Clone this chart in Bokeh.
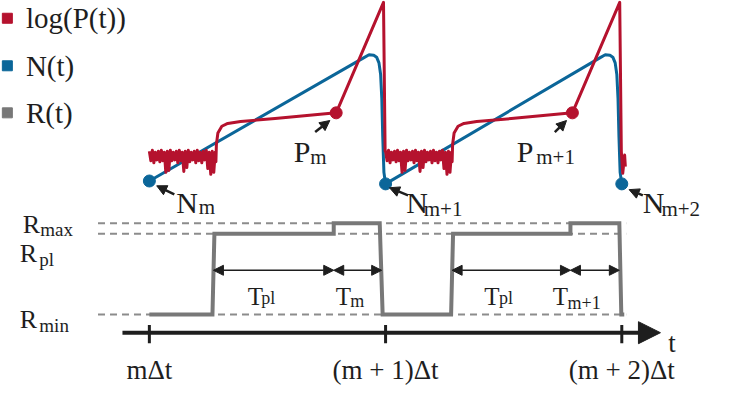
import numpy as np
from bokeh.plotting import figure
from bokeh.models import Range1d, Arrow, NormalHead
from bokeh.core.properties import value
from bokeh.embed import file_html
from bokeh.resources import INLINE

RED = "#B5122E"
BLUE = "#0B6699"
GRAY = "#787878"
DASH = "#8C8C8C"
INK = "#1E1E1E"
FONT = value("Liberation Serif")

# ---------------- data (time in units of Δt, t = 0 at mΔt; levels in arbitrary units, R_min = 0)
tick_t = [0, 1, 2]
tick_labels = ["mΔt", "(m + 1)Δt", "(m + 2)Δt"]
cycle_start = [0, 1]

# R(t) levels and the piecewise-constant R(t) signal
R_level_names = ["max", "pl", "min"]
R_levels = [9.5, 8.4, 0.0]
R_t = [0.0, 0.2671, 0.2754, 0.7805, 0.7805, 0.9752, 0.9876,
       1.2774, 1.2857, 1.7826, 1.7826, 1.9896, 1.9979, 2.0104]
R_y = [0.0, 0.0, 8.4, 8.4, 9.5, 9.5, 0.0,
       0.0, 8.4, 8.4, 9.5, 9.5, 0.0, 0.0]

# N(t): minima N_m, N_m+1, N_m+2 and the shape of one cycle (local time tau)
N_min = [13.9, 13.6, 13.6]
N_tau = [0.0, 0.905, 0.930, 0.950, 0.962, 0.972, 0.979, 0.984, 0.988, 0.993, 1.0]
N_mid = [26.7, 27.05, 27.0, 26.8, 26.2, 25.0, 22.5, 18.5, 14.8]

# log(P(t)): noisy start, rise, plateau up to P_m, peak and collapse
P_noise = [17.0, 16.0, 17.1, 15.8, 16.9, 16.1, 17.0, 15.9, 17.1, 16.0,
           16.9, 14.8, 17.0, 15.0, 17.1, 16.0, 16.9, 16.1, 17.0, 15.8,
           17.1, 16.0, 16.9, 14.9, 17.0, 15.3, 17.1, 15.9, 16.9, 16.1,
           17.0, 15.8, 17.1, 16.0, 16.9, 15.8, 17.0, 16.1, 17.1, 15.2,
           16.9, 14.6, 17.0, 14.8, 16.9]
P_noise_end = 0.279
P_tau = [0.2817, 0.2838, 0.2901, 0.3068, 0.3318, 0.3861, 0.5321, 0.7909, 0.9912, 0.9980]
P_val = [15.9, 17.7, 18.9, 19.6, 19.9, 20.1, 20.4, 21.0, 32.5, 17.0]
P_dot_tau = 0.7909
P_dot_val = 21.0
P_tail_tau = [1.004, 1.012, 1.015]
P_tail_val = [14.7, 16.6, 15.4]

# annotation pointers (tail -> head)
ptr_x0 = [0.1056, 1.0952, 2.0890, 0.7019, 1.7164]
ptr_y0 = [12.5, 12.4, 12.4, 19.0, 19.0]
ptr_x1 = [0.0311, 1.0166, 2.0311, 0.7640, 1.7660]
ptr_y1 = [13.4, 13.2, 13.0, 20.2, 20.2]

# interval arrows T_pl / T_m
T_y = 4.6
T_x0 = [0.2712, 0.7805, 1.2816, 1.7826]
T_x1 = [0.7805, 0.9834, 1.7826, 1.9896]

# ---------------- build the curves
blue_x, blue_y = [], []
for i, t0 in enumerate(cycle_start):
    ys = [N_min[i]] + N_mid + [N_min[i + 1]]
    for tau, y in zip(N_tau, ys):
        blue_x.append(t0 + tau)
        blue_y.append(y)

noise_tau = np.linspace(0.0, P_noise_end, len(P_noise))
red_x, red_y = [], []
for t0 in cycle_start:
    red_x += list(t0 + noise_tau)
    red_y += P_noise
    red_x += [t0 + tau for tau in P_tau]
    red_y += P_val
red_x += [cycle_start[-1] + tau for tau in P_tail_tau]
red_y += P_tail_val

# ---------------- figure
p = figure(width=715, height=385,
           x_range=Range1d(-0.6302, 2.3967), y_range=Range1d(-7.4, 32.7),
           x_axis_type=None, y_axis_type=None,
           output_backend="svg", toolbar_location=None, min_border=0)
p.outline_line_color = None
p.background_fill_color = "white"
p.border_fill_color = "white"

# dashed reference levels
p.segment(x0=-0.2174, x1=2.0186, y0=R_levels, y1=R_levels,
          line_dash="7 5", line_width=2, line_color=DASH)

# R(t), N(t), log P(t)
p.line(R_t, R_y, line_width=4, line_color=GRAY, line_join="miter")
p.line(blue_x, blue_y, line_width=3, line_color=BLUE, line_join="round")
p.line(red_x, red_y, line_width=3, line_color=RED, line_join="round")
p.scatter(tick_t, N_min, marker="circle", size=12, fill_color=BLUE, line_color=BLUE)
p.scatter([t0 + P_dot_tau for t0 in cycle_start], [P_dot_val] * 2,
          marker="circle", size=12, fill_color=RED, line_color=RED)

# time axis
p.segment(x0=[-0.1139], y0=[-1.9], x1=[2.12], y1=[-1.9], line_width=4, line_color=INK)
p.segment(x0=tick_t, x1=tick_t, y0=-1.1, y1=-3.0, line_width=3, line_color=INK)
p.add_layout(Arrow(x_start=2.09, y_start=-1.9, x_end=2.1636, y_end=-1.9, line_alpha=0,
                   end=NormalHead(size=22, fill_color=INK, line_color=INK)))

# pointer arrows
for a, b, c, d in zip(ptr_x0, ptr_y0, ptr_x1, ptr_y1):
    p.add_layout(Arrow(x_start=a, y_start=b, x_end=c, y_end=d, line_width=2.5, line_color=INK,
                       end=NormalHead(size=10, fill_color=INK, line_color=INK, line_width=1)))

# interval arrows
for a, b in zip(T_x0, T_x1):
    p.add_layout(Arrow(x_start=a, y_start=T_y, x_end=b, y_end=T_y, line_width=1.5, line_color=INK,
                       start=NormalHead(size=10, fill_color=INK, line_color=INK, line_width=1),
                       end=NormalHead(size=10, fill_color=INK, line_color=INK, line_width=1)))

def txt(x, y, s, size, align="left", baseline="alphabetic"):
    p.text(x=x, y=y, text=s, text_font=FONT, text_font_style="normal",
           text_font_size=size, text_align=align, text_baseline=baseline, text_color=INK)

# legend
legend_labels = ["log(P(t))", "N(t)", "R(t)"]
legend_y = [30.85, 25.9, 21.0]
p.scatter([-0.6012] * 3, legend_y, marker="square", size=10,
          fill_color=[RED, BLUE, GRAY], line_color=[RED, BLUE, GRAY])
txt([-0.5226] * 3, legend_y, legend_labels, "29px", baseline="middle")

# N / P annotations
txt([0.1139, 1.0870, 2.0890, 0.6108, 1.5549], [11.7, 11.7, 11.7, 17.0, 17.0],
    ["N", "N", "N", "P", "P"], "30px")
txt([0.2091, 1.1615, 2.1677, 0.6812, 1.6377], [11.2, 11.0, 11.0, 16.4, 16.4],
    ["m", "m+1", "m+2", "m", "m+1"], "21px")

# R level labels
txt([-0.5362, -0.5487, -0.5487], [9.4, 6.4, -0.5], ["R", "R", "R"], "26px")
txt([-0.4617, -0.4658, -0.4658], [8.9, 5.7, -1.1], R_level_names, "19px")

# T labels
txt([0.4161, 0.7888, 1.4182, 1.7081], [1.9] * 4, ["T", "T", "T", "T"], "25px")
txt([0.4741, 0.8509, 1.4803, 1.7702], [1.7, 1.4, 1.7, 1.2], ["pl", "m", "pl", "m+1"], "18px")

# tick labels and axis label
txt(tick_t, [-5.8] * 3, tick_labels, "27px", align="center")
txt([2.1967], [-3.0], ["t"], "27px")

open("out.html", "w").write(file_html(p, INLINE))
